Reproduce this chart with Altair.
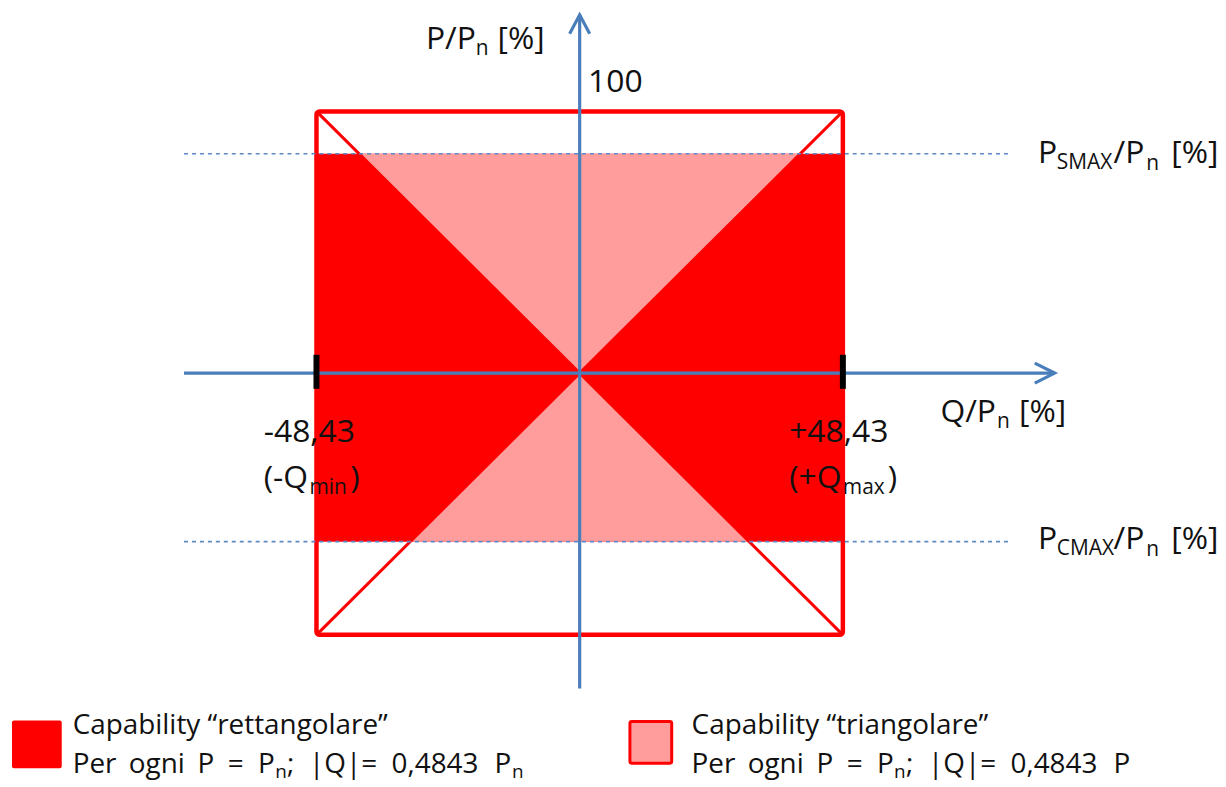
import altair as alt
import pandas as pd

# ---------------- data ----------------
Q_LIM = 48.43          # |Q|/Pn limit [%]
K_TRI = 0.4843         # triangular capability slope
P_NOM = 100            # P/Pn [%]
P_SMAX = 83.8          # P_SMAX/Pn [%]
P_CMAX = -64.4         # P_CMAX/Pn [%]
AX_Q = [-72.8, 87.4]   # horizontal axis extent
AX_P = [-120.5, 136.9] # vertical axis extent
DASH_Q = [-72.8, 79.5] # dashed reference lines extent

LEGEND_TITLES = ["Capability \u201crettangolare\u201d", "Capability \u201ctriangolare\u201d"]

# ---------------- layout ----------------
W, H = 1216, 779
OX, OY = 582.5, 373.0          # page pixel of origin
KX = 264.5 / Q_LIM             # px per unit
KY = 2.63
QMIN, QMAX = -(OX - 8) / KX, (8 + W - OX) / KX
PMIN, PMAX = -(8 + H - OY) / KY, (OY - 8) / KY
XS = alt.Scale(domain=[QMIN, QMAX], nice=False, zero=False)
YS = alt.Scale(domain=[PMIN, PMAX], nice=False, zero=False)

FONT = "Open Sans"
RED = "#ff0000"
PINK = "#ff9c9c"
BLUE = "#4a7ebb"


def X(f):
    return alt.X(f, type="quantitative", scale=XS, axis=None)


def Y(f):
    return alt.Y(f, type="quantitative", scale=YS, axis=None)


# solid rectangle capability
rect_df = pd.DataFrame({"q1": [-Q_LIM], "q2": [Q_LIM], "p1": [P_CMAX], "p2": [P_SMAX]})
solid = alt.Chart(rect_df).mark_rect(color=RED).encode(
    x=X("q1"), x2="q2", y=Y("p1"), y2="p2")

# triangular capability (hatched)
tri_df = pd.DataFrame({
    "part": ["up", "up", "up", "dn", "dn", "dn"],
    "q": [-K_TRI * P_SMAX, 0, K_TRI * P_SMAX, K_TRI * P_CMAX, 0, -K_TRI * P_CMAX],
    "pa": [P_SMAX, 0, P_SMAX, P_CMAX, P_CMAX, P_CMAX],
    "pb": [P_SMAX, P_SMAX, P_SMAX, P_CMAX, 0, P_CMAX],
})
tri = alt.Chart(tri_df).mark_area(color=PINK, interpolate="linear").encode(
    x=X("q"), y=Y("pa"), y2="pb", detail="part:N")

# outer rectangle outline
outer_df = pd.DataFrame({"q1": [-Q_LIM], "q2": [Q_LIM], "p1": [-P_NOM], "p2": [P_NOM]})
outer = alt.Chart(outer_df).mark_rect(fillOpacity=0, stroke=RED, strokeWidth=4.5,
                                      cornerRadius=3).encode(
    x=X("q1"), x2="q2", y=Y("p1"), y2="p2")

# diagonals
diag_df = pd.DataFrame({
    "ln": ["a", "a", "b", "b"],
    "q": [-Q_LIM, Q_LIM, -Q_LIM, Q_LIM],
    "p": [P_NOM, -P_NOM, -P_NOM, P_NOM],
})
diag = alt.Chart(diag_df).mark_line(color=RED, strokeWidth=3).encode(
    x=X("q"), y=Y("p"), detail="ln:N")

# dashed reference lines
dash_df = pd.DataFrame({"q1": [DASH_Q[0]] * 2, "q2": [DASH_Q[1]] * 2, "p": [P_SMAX, P_CMAX]})
dash = alt.Chart(dash_df).mark_rule(color="#5b8ac6", strokeWidth=1.6, strokeDash=[4, 4]).encode(
    x=X("q1"), x2="q2", y=Y("p"))

# axes
hax_df = pd.DataFrame({"q1": [AX_Q[0]], "q2": [AX_Q[1]], "p": [0]})
hax = alt.Chart(hax_df).mark_rule(color=BLUE, strokeWidth=3.2).encode(
    x=X("q1"), x2="q2", y=Y("p"))
vax_df = pd.DataFrame({"q": [0], "p1": [AX_P[0]], "p2": [AX_P[1]]})
vax = alt.Chart(vax_df).mark_rule(color=BLUE, strokeWidth=3.2).encode(
    x=X("q"), y=Y("p1"), y2="p2")

harrow = alt.Chart(pd.DataFrame({"q": [AX_Q[1]], "p": [0]})).mark_point(
    shape="M-1,-0.5L0,0L-1,0.5", size=1600, filled=False, color=BLUE,
    strokeWidth=3.2, opacity=1, strokeJoin="miter").encode(x=X("q"), y=Y("p"))
varrow = alt.Chart(pd.DataFrame({"q": [0], "p": [AX_P[1]]})).mark_point(
    shape="M-0.53,1L0,0L0.53,1", size=1444, filled=False, color=BLUE,
    strokeWidth=3.2, opacity=1, strokeJoin="miter").encode(x=X("q"), y=Y("p"))

# black ticks at +-Q limit
tick_df = pd.DataFrame({"q": [-Q_LIM, Q_LIM], "p1": [-6.0, -6.0], "p2": [7.0, 7.0]})
ticks = alt.Chart(tick_df).mark_rule(color="black", strokeWidth=6).encode(
    x=X("q"), y=Y("p1"), y2="p2")

one = pd.DataFrame({"a": [0]})


def txt(s, x, y, size):
    return alt.Chart(one).mark_text(text=s, align="left", baseline="alphabetic",
                                    font=FONT, fontSize=size, color="#111111").encode(
        x=alt.value(x - 8), y=alt.value(y - 8))


M, S = 32, 21
L, LS = 28, 19


def legend_line(x0, y, words):
    # words: list of (text, x_offset, is_sub)
    out = []
    for w, off, sub in words:
        out.append(txt(w, x0 + off, y + (5 if sub else 0), LS if sub else L))
    return out


LINE2_A = [("Per", 0, False), ("ogni", 56.4, False), ("P", 125.5, False), ("=", 155.8, False),
           ("P", 186.3, False), ("n", 203.5, True), (";", 215.5, False), ("|Q|=", 237.5, False),
           ("0,4843", 320.5, False), ("P", 424, False), ("n", 441.5, True)]
LINE2_B = LINE2_A[:-1]

texts = [
    # P/Pn [%]
    txt("P/P", 428, 47, M), txt("n", 478, 53, S), txt("[%]", 500, 47, M),
    txt("100", 591, 90, M),
    # PSMAX/Pn [%]
    txt("P", 1043, 162, M), txt("SMAX", 1062, 168, S), txt("/P", 1119, 162, M),
    txt("n", 1152, 169, S), txt("[%]", 1177, 162, M),
    # PCMAX/Pn [%]
    txt("P", 1043, 550, M), txt("CMAX", 1062, 556, S), txt("/P", 1119, 550, M),
    txt("n", 1152, 557, S), txt("[%]", 1177, 550, M),
    # Q/Pn [%]
    txt("Q/P", 945, 422, M), txt("n", 1002, 428, S), txt("[%]", 1024, 422, M),
    # limits
    txt("-48,43", 265, 442, M), txt("(-Q", 265, 488, M), txt("min", 311, 494, S),
    txt(")", 352, 488, M),
    txt("+48,43", 793, 442, M), txt("(+Q", 793, 488, M), txt("max", 847, 494, S),
    txt(")", 892, 488, M),
    # legend
    txt(LEGEND_TITLES[0], 73, 736, L),
    *legend_line(73, 775, LINE2_A),
    txt(LEGEND_TITLES[1], 695, 736, L),
    *legend_line(695, 775, LINE2_B),
]

sw1 = alt.Chart(one).mark_rect(color=RED, cornerRadius=2).encode(
    x=alt.value(12 - 8), x2=alt.value(62 - 8), y=alt.value(722 - 8), y2=alt.value(770 - 8))
sw2 = alt.Chart(one).mark_rect(fill=PINK, stroke=RED, strokeWidth=3, cornerRadius=2).encode(
    x=alt.value(633 - 8), x2=alt.value(675 - 8), y=alt.value(723 - 8), y2=alt.value(765 - 8))

chart = alt.layer(solid, tri, outer, diag, dash, hax, vax, harrow, varrow, ticks,
                  sw1, sw2, *texts).properties(
    width=W, height=H, padding=0,
    autosize=alt.AutoSizeParams(type="none"),
    background="white",
).configure_view(stroke=None)

chart.save("out.html", embed_options={"renderer": "svg", "actions": False})
